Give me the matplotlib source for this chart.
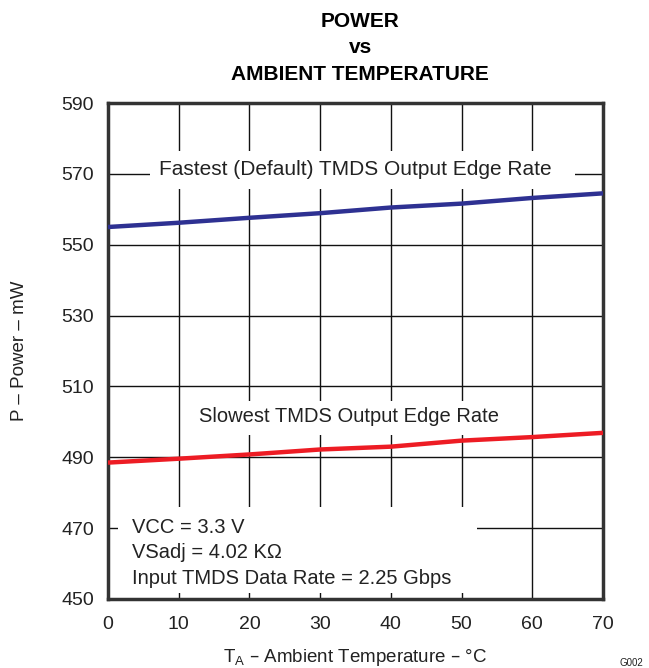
import numpy as np
import matplotlib
matplotlib.use("Agg")
import matplotlib.pyplot as plt
from matplotlib.patches import Rectangle

plt.rcParams['font.family'] = ['Liberation Sans', 'DejaVu Sans']

# temperature (deg C)
temps = [0, 10, 20, 30, 40, 50, 60, 70]
# power (mW)
fastest = [555.0, 556.2, 557.6, 558.9, 560.5, 561.6, 563.2, 564.5]
slowest = [488.5, 489.6, 490.8, 492.2, 493.0, 494.7, 495.7, 496.9]

xticks = [0, 10, 20, 30, 40, 50, 60, 70]
yticks = [450, 470, 490, 510, 530, 550, 570, 590]

conditions = ["VCC = 3.3 V", "VSadj = 4.02 K\u03a9", "Input TMDS Data Rate = 2.25 Gbps"]

txt = "#222222"

fig = plt.figure(figsize=(6.49, 6.68), dpi=100)
ax = fig.add_axes([0.1664, 0.1033, 0.7627, 0.7425])

ax.plot(temps, fastest, color="#2e3192", lw=3.2, zorder=4, solid_capstyle="butt")
ax.plot(temps, slowest, color="#ed1c24", lw=3.2, zorder=4, solid_capstyle="butt")

ax.set_xlim(0, 70)
ax.set_ylim(450, 590)
ax.set_xticks(xticks)
ax.set_yticks(yticks)
ax.tick_params(length=0, labelsize=14, labelcolor=txt)
ax.tick_params(axis="x", pad=12)
ax.tick_params(axis="y", pad=10)
ax.grid(True, color="#111111", lw=1.0, zorder=0.5)
ax.set_axisbelow(True)
for s in ax.spines.values():
    s.set_linewidth(2.5)
    s.set_color("#333333")

ax.set_xlabel("T$_\\mathregular{A}$ \u2013 Ambient Temperature \u2013 \u00b0C", fontsize=13.5, color=txt, labelpad=10)
ax.set_ylabel("P \u2013 Power \u2013 mW", fontsize=13.5, color=txt, labelpad=24)

fig.text(0.555, 0.968, "POWER", ha="center", va="center", fontsize=15, fontweight="bold", color="black")
fig.text(0.555, 0.929, "vs", ha="center", va="center", fontsize=15, fontweight="bold", color="black")
fig.text(0.555, 0.889, "AMBIENT TEMPERATURE", ha="center", va="center", fontsize=15, fontweight="bold", color="black")

# white label backgrounds that blank out the grid
for x0, y0, w, h in [(0.085, 0.827, 0.858, 0.077),
                     (0.169, 0.331, 0.633, 0.068),
                     (0.020, 0.012, 0.725, 0.173)]:
    ax.add_patch(Rectangle((x0, y0), w, h, transform=ax.transAxes,
                           facecolor="white", edgecolor="none", zorder=1.5))

ax.text(35, 571.2, "Fastest (Default) TMDS Output Edge Rate", ha="center", va="center",
        fontsize=15, color=txt, zorder=3)
ax.text(34.1, 501.4, "Slowest TMDS Output Edge Rate", ha="center", va="center",
        fontsize=14.5, color=txt, zorder=3)
ax.text(3.45, 463.0, "\n".join(conditions), ha="left", va="center", fontsize=14.5,
        color=txt, linespacing=1.45, zorder=3)

fig.text(0.955, 0.0, "G002", ha="left", va="bottom", fontsize=7, color=txt)

fig.savefig("out.png", dpi=100)
